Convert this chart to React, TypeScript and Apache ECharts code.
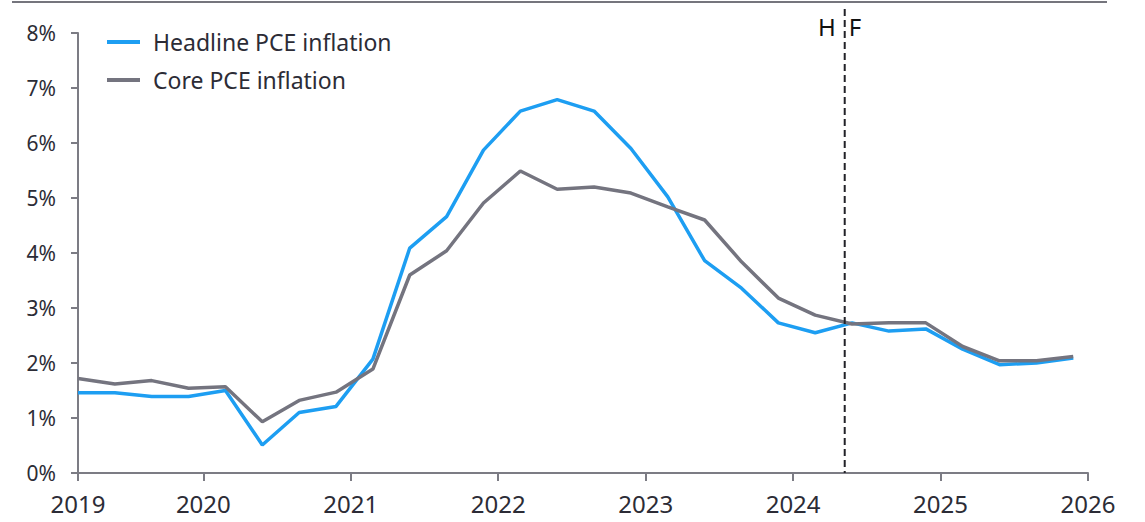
import React, { useEffect, useRef } from "react";
import * as echarts from "echarts";

const quarters = [
  "2019Q1", "2019Q2", "2019Q3", "2019Q4",
  "2020Q1", "2020Q2", "2020Q3", "2020Q4",
  "2021Q1", "2021Q2", "2021Q3", "2021Q4",
  "2022Q1", "2022Q2", "2022Q3", "2022Q4",
  "2023Q1", "2023Q2", "2023Q3", "2023Q4",
  "2024Q1", "2024Q2", "2024Q3", "2024Q4",
  "2025Q1", "2025Q2", "2025Q3", "2025Q4",
];
const headline = [1.46, 1.46, 1.39, 1.39, 1.5, 0.51, 1.1, 1.21, 2.07, 4.09, 4.66, 5.87, 6.58, 6.79, 6.58, 5.9, 5.02, 3.86, 3.36, 2.73, 2.55, 2.73, 2.58, 2.62, 2.25, 1.97, 2.0, 2.09];
const core = [1.72, 1.62, 1.68, 1.54, 1.57, 0.93, 1.32, 1.47, 1.89, 3.6, 4.04, 4.91, 5.49, 5.16, 5.2, 5.09, 4.84, 4.6, 3.84, 3.18, 2.87, 2.71, 2.73, 2.73, 2.3, 2.04, 2.04, 2.12];
const seriesNames = ["Headline PCE inflation", "Core PCE inflation"];
const yearTicks = [2019, 2020, 2021, 2022, 2023, 2024, 2025, 2026];
const yMin = 0;
const yMax = 8;
const forecastStart = 2024.35;
const forecastLabels = ["H", "F"];

// quarterly points are plotted at mid-quarter
const quarterOffset = 0.15;
const toX = (q: string) => {
  const y = parseInt(q.slice(0, 4), 10);
  const n = parseInt(q.slice(5), 10);
  return y + (n - 1) * 0.25 + quarterOffset;
};
const xStart = yearTicks[0] + quarterOffset;
const xEnd = yearTicks[yearTicks.length - 1];

const FONT = "'Noto Sans', 'Open Sans', sans-serif";
const TEXT = "#2c2c36";
const AXIS = "#7c7c84";

export default function App() {
  const ref = useRef<HTMLDivElement>(null);
  useEffect(() => {
    if (!ref.current) return;
    const chart = echarts.init(ref.current, undefined, { renderer: "svg" });
    const tickVals = [xStart, ...yearTicks.slice(1)];
    chart.setOption({
      animation: false,
      grid: { left: 78, right: 57, top: 33, bottom: 49 },
      legend: {
        orient: "vertical",
        left: 102,
        top: 25,
        itemGap: 14,
        itemWidth: 33,
        itemHeight: 4,
        icon: "rect",
        textStyle: { fontFamily: FONT, fontSize: 23, color: TEXT, lineHeight: 24, padding: [0, 0, 0, 8] },
        data: seriesNames,
      },
      xAxis: {
        type: "value",
        min: xStart,
        max: xEnd,
        axisLine: { show: true, lineStyle: { color: AXIS, width: 2 } },
        axisTick: { show: true, length: 8, customValues: tickVals, lineStyle: { color: AXIS, width: 2 } },
        axisLabel: {
          customValues: tickVals,
          formatter: (v: number) => String(Math.round(v - 0.2)),
          fontFamily: FONT,
          fontSize: 24,
          color: TEXT,
          margin: 18,
          showMinLabel: true,
          showMaxLabel: true,
        },
        splitLine: { show: false },
      },
      yAxis: {
        type: "value",
        min: yMin,
        max: yMax,
        interval: 1,
        axisLine: { show: true, lineStyle: { color: AXIS, width: 2 } },
        axisTick: { show: true, length: 7, lineStyle: { color: AXIS, width: 2 } },
        axisLabel: {
          formatter: (v: number) => `${v}%`,
          fontFamily: FONT,
          fontSize: 21,
          color: TEXT,
          margin: 22,
        },
        splitLine: { show: false },
      },
      series: [
        {
          name: seriesNames[0],
          type: "line",
          data: quarters.map((q, i) => [toX(q), headline[i]]),
          showSymbol: false,
          symbol: "none",
          lineStyle: { color: "#1d9ef2", width: 3.5 },
          itemStyle: { color: "#1d9ef2" },
          z: 2,
        },
        {
          name: seriesNames[1],
          type: "line",
          data: quarters.map((q, i) => [toX(q), core[i]]),
          showSymbol: false,
          symbol: "none",
          lineStyle: { color: "#74747f", width: 3.5 },
          itemStyle: { color: "#74747f" },
          z: 3,
        },
      ],
    });
    const px = chart.convertToPixel({ xAxisIndex: 0 }, forecastStart) as number;
    const yBottom = chart.convertToPixel({ yAxisIndex: 0 }, yMin) as number;
    chart.setOption({
      graphic: [
        {
          type: "line",
          shape: { x1: 12, y1: 2, x2: 1107, y2: 2 },
          style: { stroke: "#75757d", lineWidth: 2 },
        },
        {
          type: "line",
          shape: { x1: px, y1: 9, x2: px, y2: yBottom },
          style: { stroke: "#222228", lineWidth: 2, lineDash: [7, 4] },
          z: 10,
        },
        {
          type: "text",
          x: px - 9,
          y: 26,
          style: { text: forecastLabels[0], fontFamily: FONT, fontSize: 24, fill: "#111", align: "right", verticalAlign: "middle" },
        },
        {
          type: "text",
          x: px + 4,
          y: 26,
          style: { text: forecastLabels[1], fontFamily: FONT, fontSize: 24, fill: "#111", align: "left", verticalAlign: "middle" },
        },
      ],
    });
    return () => chart.dispose();
  }, []);
  return <div ref={ref} style={{ position: "fixed", left: 0, top: 0, width: 1145, height: 522, background: "#fff" }} />;
}
